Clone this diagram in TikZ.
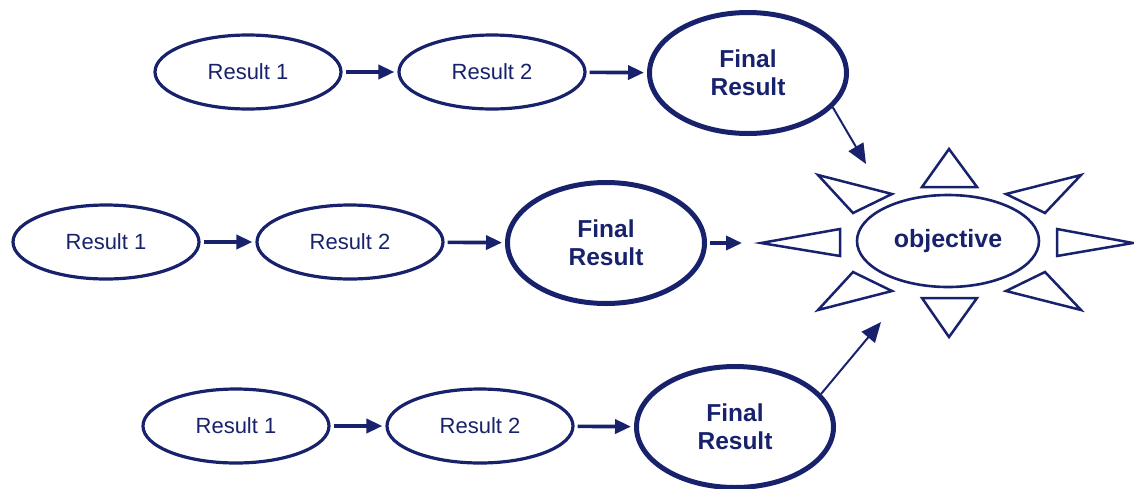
\documentclass[tikz,border=0pt]{standalone}
\usepackage{fontspec}
\setmainfont{Liberation Sans}
\usetikzlibrary{shapes.geometric,arrows.meta}
\definecolor{navy}{RGB}{24,34,108}
\begin{document}
\begin{tikzpicture}[x=1pt,y=-1pt,
  res/.style={ellipse,draw=navy,line width=3.2pt,minimum width=186pt,minimum height=74pt,inner sep=0pt,
    text=navy,font=\fontsize{22}{28}\selectfont},
  fin/.style={ellipse,draw=navy,line width=5pt,minimum width=197pt,minimum height=121pt,inner sep=0pt,
    text=navy,font=\fontsize{24.5}{28}\selectfont\bfseries,align=center},
  obj/.style={ellipse,draw=navy,line width=2.6pt,minimum width=182pt,minimum height=92pt,inner sep=0pt,
    text=navy,font=\fontsize{25}{28}\selectfont\bfseries},
  flow/.style={draw=navy,line width=3.6pt,-{Triangle[length=16pt,width=14pt]},shorten <=3pt,shorten >=3pt},
  diag/.style={draw=navy,line width=2pt,-{Triangle[length=20pt,width=17pt]}},
  ray/.style={draw=navy,line width=2.5pt,line join=miter,fill=white}]
\useasboundingbox (0,0) rectangle (1134,488);
% row 1
\node[res] (a1) at (248,72) {Result 1};
\node[res] (a2) at (492,72) {Result 2};
\node[fin] (af) at (748,73) {Final\\Result};
% row 2
\node[res] (b1) at (106,242) {Result 1};
\node[res] (b2) at (350,242) {Result 2};
\node[fin] (bf) at (606,243) {Final\\Result};
% row 3
\node[res] (c1) at (236,426) {Result 1};
\node[res] (c2) at (480,426) {Result 2};
\node[fin] (cf) at (735,427) {Final\\Result};
% objective
\node[obj] (o) at (948,241) {objective};
% rays
\draw[ray] (949,149) -- (977,187) -- (922,187) -- cycle;
\draw[ray] (949,337) -- (977,298) -- (922,298) -- cycle;
\draw[ray] (761,243) -- (840,229) -- (840,256) -- cycle;
\draw[ray] (1133,243) -- (1057,229) -- (1057,256) -- cycle;
\draw[ray] (818,175) -- (892,194) -- (853,213) -- cycle;
\draw[ray] (1081,175) -- (1006,194) -- (1045,213) -- cycle;
\draw[ray] (818,310) -- (892,291) -- (853,272) -- cycle;
\draw[ray] (1081,310) -- (1006,291) -- (1045,272) -- cycle;
% free ends
\coordinate (ta) at (866,164);
\coordinate (tb) at (742,243);
\coordinate (tc) at (881,322);
% connectors
\draw[flow] (a1) -- (a2);
\draw[flow] (a2) -- (af);
\draw[flow] (b1) -- (b2);
\draw[flow] (b2) -- (bf);
\draw[flow] (c1) -- (c2);
\draw[flow] (c2) -- (cf);
\draw[flow,shorten >=0pt] (bf) -- (tb);
\draw[diag] (af.-22) -- (ta);
\draw[diag] (cf.21) -- (tc);
\end{tikzpicture}
\end{document}
